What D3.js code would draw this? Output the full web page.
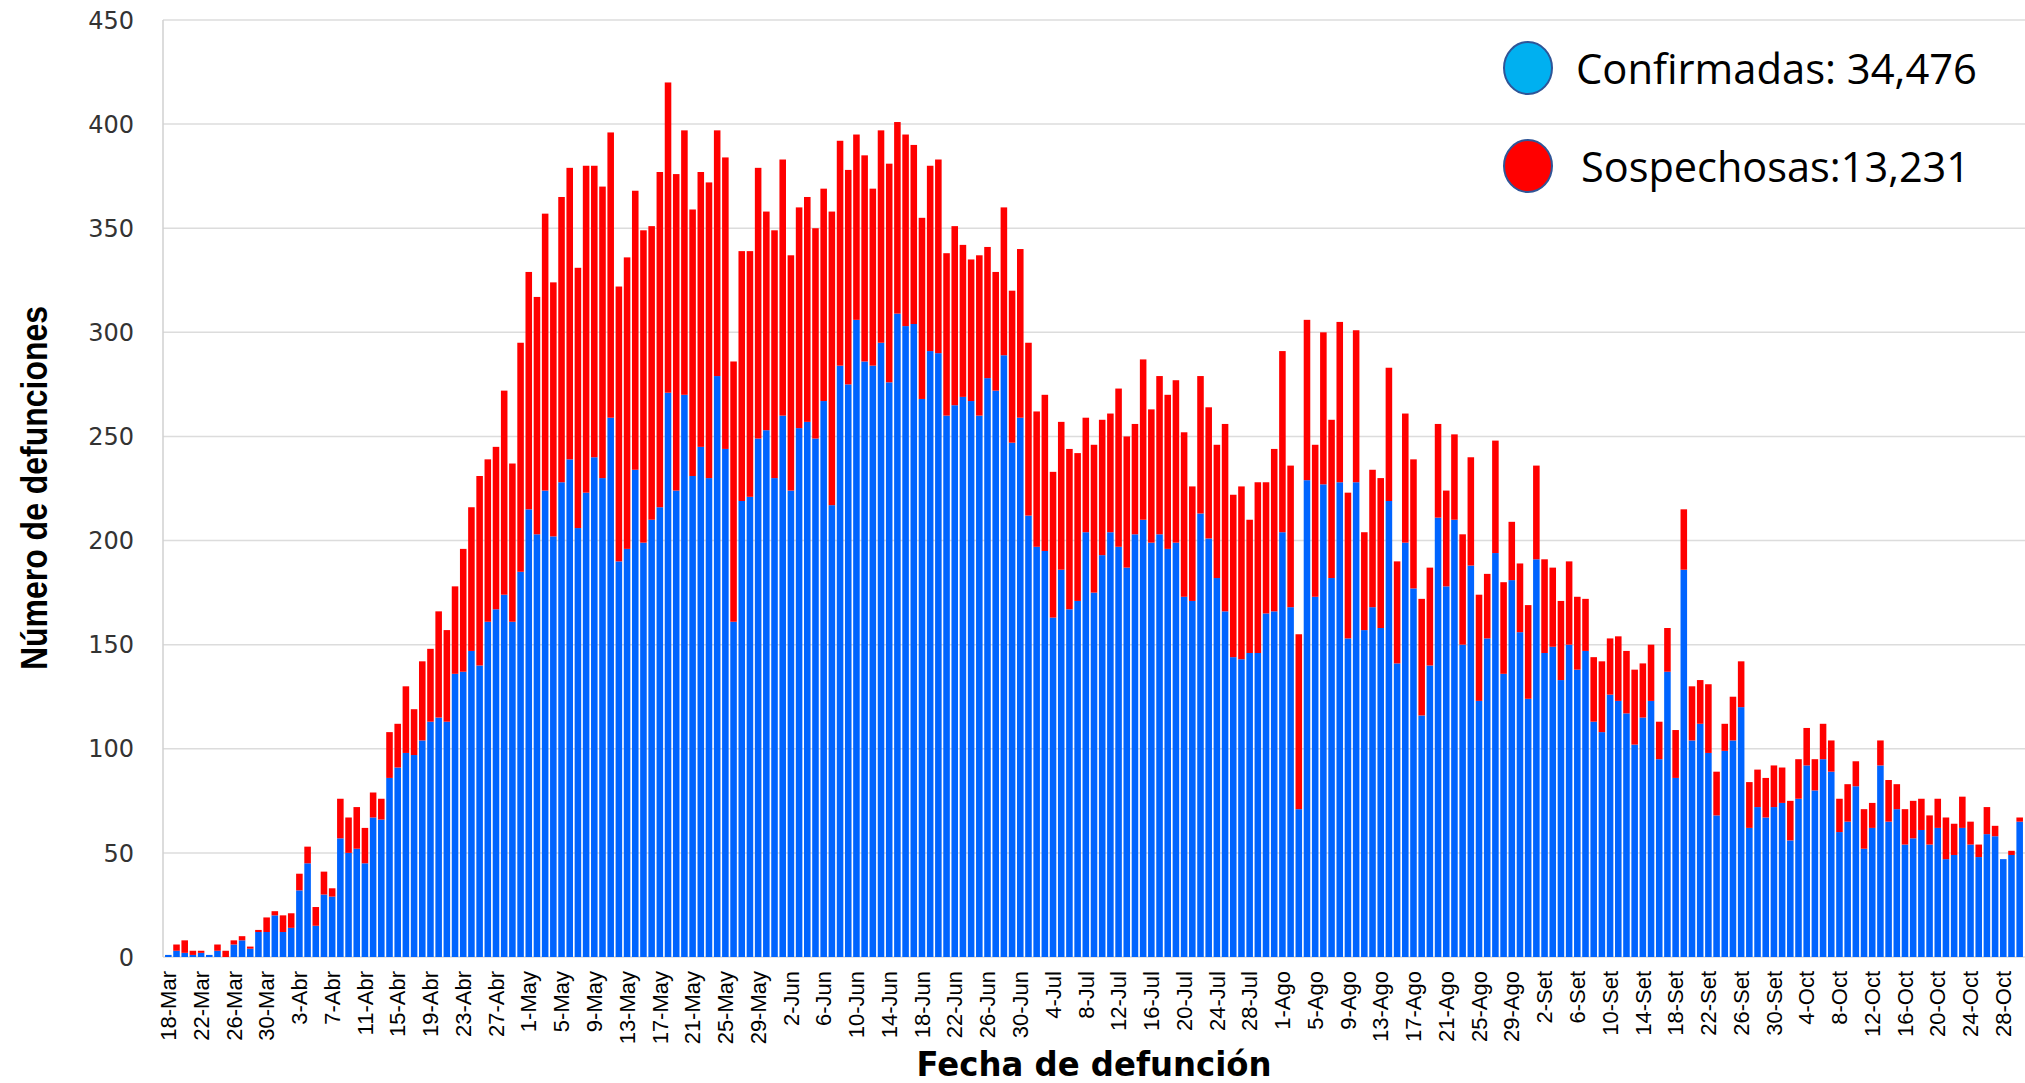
<!DOCTYPE html>
<html>
<head>
<meta charset="utf-8">
<script src="https://cdn.jsdelivr.net/npm/d3@7"></script>
<style>
    body { margin: 0; background: #fff; }
    svg { display: block; }
</style>
</head>
<body>
<svg id="chart" width="2025" height="1083"></svg>
<script>
/**
 * Data: daily deaths by date of death, 18-Mar to 30-Oct.
 */
const startDate = new Date(2020, 2, 18);
const monthNames = ['Ene', 'Feb', 'Mar', 'Abr', 'May', 'Jun', 'Jul', 'Ago', 'Set', 'Oct', 'Nov', 'Dic'];

const confirmadas = [
    1, 3, 2, 1, 2, 1, 3, 0, 6, 8,
    4, 12, 12, 20, 12, 14, 32, 45, 15, 30,
    29, 57, 50, 52, 45, 67, 66, 86, 91, 98,
    97, 104, 113, 115, 113, 136, 137, 147, 140, 161,
    167, 174, 161, 185, 215, 203, 224, 202, 228, 239,
    206, 223, 240, 230, 259, 190, 196, 234, 199, 210,
    216, 271, 224, 270, 231, 245, 230, 279, 244, 161,
    219, 221, 249, 253, 230, 260, 224, 254, 257, 249,
    267, 217, 284, 275, 306, 286, 284, 295, 276, 309,
    303, 304, 268, 291, 290, 260, 265, 269, 267, 260,
    278, 272, 289, 247, 259, 212, 197, 195, 163, 186,
    167, 171, 204, 175, 193, 204, 197, 187, 203, 210,
    199, 203, 196, 199, 173, 171, 213, 201, 182, 166,
    144, 143, 146, 146, 165, 166, 204, 168, 71, 229,
    173, 227, 182, 228, 153, 228, 157, 168, 158, 219,
    141, 199, 177, 116, 140, 211, 178, 210, 150, 188,
    123, 153, 194, 136, 181, 156, 124, 191, 146, 149,
    133, 150, 138, 147, 113, 108, 126, 123, 117, 102,
    115, 123, 95, 137, 86, 186, 104, 112, 98, 68,
    99, 104, 120, 62, 72, 67, 72, 74, 56, 76,
    92, 80, 95, 89, 60, 65, 82, 52, 62, 92,
    65, 71, 54, 57, 61, 54, 62, 47, 49, 62,
    54, 48, 59, 58, 47, 49, 65
];

const sospechosas = [
    0, 3, 6, 2, 1, 0, 3, 3, 2, 2,
    1, 1, 7, 2, 8, 7, 8, 8, 9, 11,
    4, 19, 17, 20, 17, 12, 10, 22, 21, 32,
    22, 38, 35, 51, 44, 42, 59, 69, 91, 78,
    78, 98, 76, 110, 114, 114, 133, 122, 137, 140,
    125, 157, 140, 140, 137, 132, 140, 134, 150, 141,
    161, 149, 152, 127, 128, 132, 142, 118, 140, 125,
    120, 118, 130, 105, 119, 123, 113, 106, 108, 101,
    102, 141, 108, 103, 89, 99, 85, 102, 105, 92,
    92, 86, 87, 89, 93, 78, 86, 73, 68, 77,
    63, 57, 71, 73, 81, 83, 65, 75, 70, 71,
    77, 71, 55, 71, 65, 57, 76, 63, 53, 77,
    64, 76, 74, 78, 79, 55, 66, 63, 64, 90,
    78, 83, 64, 82, 63, 78, 87, 68, 84, 77,
    73, 73, 76, 77, 70, 73, 47, 66, 72, 64,
    49, 62, 62, 56, 47, 45, 46, 41, 53, 52,
    51, 31, 54, 44, 28, 33, 45, 45, 45, 38,
    38, 40, 35, 25, 31, 34, 27, 31, 30, 36,
    26, 27, 18, 21, 23, 29, 26, 21, 33, 21,
    13, 21, 22, 22, 18, 19, 20, 17, 19, 19,
    18, 15, 17, 15, 16, 18, 12, 19, 12, 12,
    20, 12, 17, 18, 15, 14, 14, 20, 15, 15,
    11, 6, 13, 5, 0, 2, 2
];

const yTicks = [0, 50, 100, 150, 200, 250, 300, 350, 400, 450];
const tickEvery = 4; // one date label every 4 days
const seriesKeys = ['confirmadas', 'sospechosas'];
const seriesColors = ['#0064ff', '#ff0000'];
const legendLabels = ['Confirmadas: 34,476', 'Sospechosas:13,231'];
const legendColors = ['#00b0f0', '#ff0000'];

/**
 * Visual configs.
 */
const plot = { left: 163, right: 2025, top: 20, bottom: 957 };

const svg = d3.select('#chart');

const rows = confirmadas.map((c, i) => ({
    i: i,
    date: d3.timeDay.offset(startDate, i),
    confirmadas: c,
    sospechosas: sospechosas[i]
}));

const x = d3.scaleBand()
    .domain(rows.map(d => d.i))
    .range([plot.left, plot.right])
    .paddingInner(0.2)
    .paddingOuter(0.25);

const y = d3.scaleLinear()
    .domain([0, 450])
    .range([plot.bottom, plot.top]);

const dateLabel = d => d.getDate() + '-' + monthNames[d.getMonth()];

// Gridlines
svg.append('g').attr('class', 'grid')
    .selectAll('line')
    .data(yTicks)
    .join('line')
        .attr('x1', plot.left).attr('x2', plot.right)
        .attr('y1', d => y(d)).attr('y2', d => y(d))
        .style('stroke', '#dcdcdc')
        .style('stroke-width', 1.5);

// Left frame line
svg.append('line')
    .attr('x1', plot.left).attr('x2', plot.left)
    .attr('y1', plot.top).attr('y2', plot.bottom)
    .style('stroke', '#d0d0d0').style('stroke-width', 1.5);

// Stacked bars
const stacked = d3.stack().keys(seriesKeys)(rows);
svg.append('g').attr('class', 'bars')
    .selectAll('g')
    .data(stacked)
    .join('g')
        .style('fill', (d, k) => seriesColors[k])
    .selectAll('rect')
    .data(d => d)
    .join('rect')
        .attr('x', d => x(d.data.i))
        .attr('width', x.bandwidth())
        .attr('y', d => y(d[1]))
        .attr('height', d => y(d[0]) - y(d[1]));

// Y axis labels
svg.append('g').attr('class', 'y-labels')
    .selectAll('text')
    .data(yTicks)
    .join('text')
        .attr('x', 134)
        .attr('y', d => y(d))
        .attr('dy', '0.36em')
        .attr('text-anchor', 'end')
        .style('font-family', 'DejaVu Sans')
        .style('font-size', '24px')
        .style('fill', '#333')
        .text(d => d);

// X axis date labels, rotated
svg.append('g').attr('class', 'x-labels')
    .selectAll('text')
    .data(rows.filter(d => d.i % tickEvery === 0))
    .join('text')
        .attr('transform', d => 'translate(' + (x(d.i) + x.bandwidth() / 2) + ',' + (plot.bottom + 14) + ') rotate(-90)')
        .attr('dy', '0.35em')
        .attr('text-anchor', 'end')
        .style('font-family', 'Liberation Sans')
        .style('font-size', '22px')
        .style('fill', '#000')
        .text(d => dateLabel(d.date));

// Axis titles
svg.append('text')
    .attr('transform', 'translate(34,488) rotate(-90)')
    .attr('dy', '0.35em')
    .attr('text-anchor', 'middle')
    .attr('textLength', 364)
    .attr('lengthAdjust', 'spacingAndGlyphs')
    .style('font-family', 'Liberation Sans')
    .style('font-weight', 'bold')
    .style('font-size', '36px')
    .text('Número de defunciones');

svg.append('text')
    .attr('x', 1094)
    .attr('y', 1076)
    .attr('text-anchor', 'middle')
    .attr('textLength', 355)
    .attr('lengthAdjust', 'spacingAndGlyphs')
    .style('font-family', 'DejaVu Sans')
    .style('font-weight', 'bold')
    .style('font-size', '33px')
    .text('Fecha de defunción');

// Legend
const legend = svg.append('g').attr('class', 'legend')
    .selectAll('g')
    .data(legendLabels)
    .join('g')
        .attr('transform', (d, k) => 'translate(1528,' + (68 + k * 98) + ')');

legend.append('ellipse')
    .attr('rx', 24).attr('ry', 26)
    .style('fill', (d, k) => legendColors[k])
    .style('stroke', '#2f5597')
    .style('stroke-width', 2);

legend.append('text')
    .attr('x', (d, k) => k ? 53 : 48)
    .attr('y', 16)
    .attr('textLength', (d, k) => k ? 389 : 401)
    .attr('lengthAdjust', 'spacingAndGlyphs')
    .style('font-family', 'Open Sans')
    .style('font-size', '42px')
    .style('fill', '#000')
    .text(d => d);
</script>
</body>
</html>
